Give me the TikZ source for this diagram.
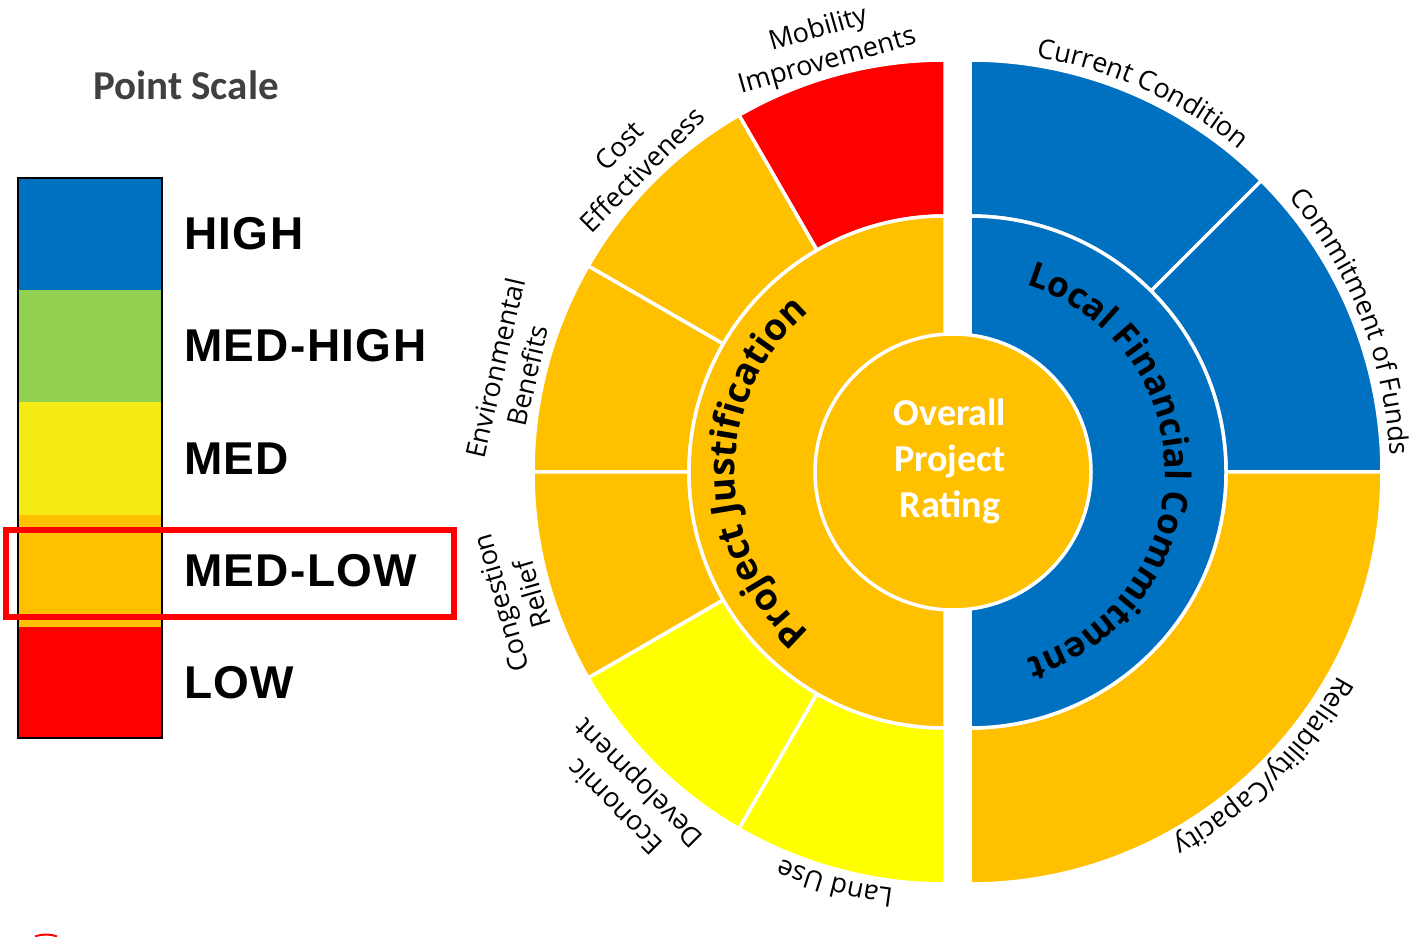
\documentclass[tikz,border=0pt]{standalone}
\usepackage{fontspec}
\usetikzlibrary{calc,decorations.text}
\newfontfamily\osans{Open Sans}
\newfontfamily\carl{Carlito}
\newfontfamily\lgdfont{Liberation Sans}[LetterSpace=3]
\definecolor{cblue}{RGB}{0,112,192}
\definecolor{cgreen}{RGB}{146,208,80}
\definecolor{cyel}{RGB}{244,234,20}
\definecolor{corange}{RGB}{255,192,0}
\definecolor{cred}{RGB}{255,0,0}
\definecolor{cyellow}{RGB}{255,255,0}
\definecolor{cgray}{RGB}{64,64,64}
\def\pjfont{\osans\bfseries\fontsize{37}{42}\selectfont}
\def\lfcfont{\osans\bfseries\fontsize{35}{40}\selectfont}
\def\outfont{\osans\fontsize{27}{33}\selectfont}
\newcommand\sunsector[6]{\filldraw[sector,fill=#6] ($(#1)+(#2:#4pt)$) arc[start angle=#2,end angle=#3,radius=#4pt] -- ($(#1)+(#3:#5pt)$) arc[start angle=#3,end angle=#2,radius=#5pt] -- cycle;}
\begin{document}
\begin{tikzpicture}[x=1pt,y=1pt,
  sector/.style={draw=white,line width=3.5pt,line join=miter},
  outlbl/.style={font=\outfont,align=center,inner sep=0pt,anchor=south},
  lgd/.style={font=\lgdfont\bfseries\fontsize{46}{50}\selectfont,anchor=west,inner sep=0pt},
  curved/.style={decorate,decoration={text along path,text align=center,text={#1}}}]
\useasboundingbox (0,0) rectangle (1422,937);
\fill[white] (0,0) rectangle (1422,937);
% ---------- legend ----------
\node[font=\carl\bfseries\fontsize{41}{48}\selectfont,text=cgray] (title) at (186,852) {Point Scale};
\fill[cblue]   (18,759) rectangle (162,647);
\fill[cgreen]  (18,647) rectangle (162,535);
\fill[cyel]    (18,535) rectangle (162,422);
\fill[corange] (18,422) rectangle (162,310);
\fill[cred]    (18,310) rectangle (162,199);
\draw[black,line width=2pt] (18,759) rectangle (162,199);
\node[lgd] (high) at (184,703) {HIGH};
\node[lgd] (medhigh) at (184,591) {MED-HIGH};
\node[lgd] (med) at (184,478) {MED};
\node[lgd] (medlow) at (184,366) {MED-LOW};
\node[lgd] (low) at (184,254) {LOW};
\draw[cred,line width=6pt] (6,407) rectangle (454,320);
\draw[cred,line width=2pt] (35,0.5) .. controls (41,3) and (51,3) .. (57,0.5);
% ---------- chart ----------
\coordinate (CL) at (945,465);
\coordinate (CR) at (970,465);
\coordinate (C0) at (953,465);
% outer ring, left half
\sunsector{CL}{90}{120}{256}{412}{cred}
\sunsector{CL}{120}{150}{256}{412}{corange}
\sunsector{CL}{150}{180}{256}{412}{corange}
\sunsector{CL}{180}{210}{256}{412}{corange}
\sunsector{CL}{210}{240}{256}{412}{cyellow}
\sunsector{CL}{240}{270}{256}{412}{cyellow}
% outer ring, right half
\sunsector{CR}{45}{90}{256}{412}{cblue}
\sunsector{CR}{0}{45}{256}{412}{cblue}
\sunsector{CR}{-90}{0}{256}{412}{corange}
% middle ring
\sunsector{CL}{90}{270}{100}{256}{corange}
\sunsector{CR}{-90}{90}{100}{256}{cblue}
% centre
\filldraw[fill=corange,draw=white,line width=3.5pt] (C0) circle[radius=138pt];
\node[font=\carl\bfseries\fontsize{38}{46}\selectfont,text=white,align=center] (overall) at (950,476) {Overall\\Project\\Rating};
% middle ring labels
\path[curved={|\pjfont|Project Justification}] ($(CL)+(270:210pt)$) arc[start angle=270,end angle=90,radius=210pt];
\path[curved={|\lfcfont|Local Financial Commitment}] ($(CR)+(90:195pt)$) arc[start angle=90,end angle=-90,radius=195pt];
% outer labels, curved
\path[curved={|\outfont|Current Condition}] ($(CR)+(88:420pt)$) arc[start angle=88,end angle=43,radius=420pt];
\path[curved={|\outfont|Commitment of Funds}] ($(CR)+(44:420pt)$) arc[start angle=44,end angle=-1,radius=420pt];
\path[curved={|\outfont|Reliability/Capacity}] ($(CR)+(0:421pt)$) arc[start angle=0,end angle=-90,radius=421pt];
\path[curved={|\outfont|Land Use}] ($(CL)+(270:420pt)$) arc[start angle=270,end angle=240,radius=420pt];
% outer labels, two lines
\node[outlbl,rotate=16] (mob) at ($(CL)+(106:413pt)$) {Mobility\\Improvements};
\node[outlbl,rotate=45] (cost) at ($(CL)+(135:418pt)$) {Cost\\Effectiveness};
\node[outlbl,rotate=77] (env) at ($(CL)+(167:418pt)$) {Environmental\\Benefits};
\node[outlbl,rotate=106] (cong) at ($(CL)+(196.5:420pt)$) {Congestion\\Relief};
\node[outlbl,rotate=135] (econ) at ($(CL)+(225.5:421pt)$) {Economic\\Development};
\end{tikzpicture}
\end{document}
